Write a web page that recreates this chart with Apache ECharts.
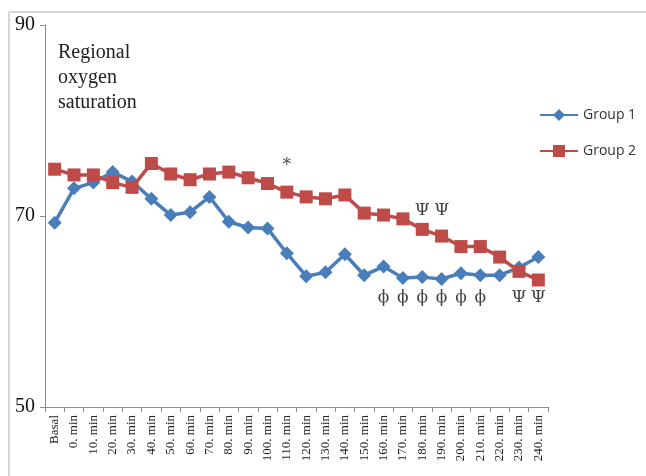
<!DOCTYPE html>
<html><head><meta charset="utf-8">
<style>html,body{margin:0;padding:0;background:#fff}#c{width:646px;height:476px}</style>
<script src="https://cdn.jsdelivr.net/npm/echarts@6/dist/echarts.min.js"></script>
</head><body><div id="c"></div>
<script>
var categories = ['Basal','0. min','10. min','20. min','30. min','40. min','50. min','60. min','70. min','80. min','90. min','100. min','110. min','120. min','130. min','140. min','150. min','160. min','170. min','180. min','190. min','200. min','210. min','220. min','230. min','240. min'];
var group1 = [69.3,72.9,73.5,74.6,73.6,71.8,70.1,70.4,72.0,69.4,68.8,68.7,66.1,63.7,64.1,66.0,63.8,64.7,63.5,63.6,63.4,64.0,63.8,63.8,64.6,65.7];
var group2 = [74.9,74.3,74.3,73.5,73.0,75.5,74.4,73.8,74.4,74.6,74.0,73.4,72.5,72.0,71.8,72.2,70.3,70.1,69.7,68.6,67.9,66.8,66.8,65.7,64.2,63.3];
var yTicks = [50,70,90];
var annotCats = ['110. min','180. min','190. min','160. min','170. min','180. min','190. min','200. min','210. min','230. min','240. min'];
var annotVals = [75.3,70.6,70.6,61.5,61.5,61.5,61.5,61.5,61.5,61.5,61.5];
var annotTexts = ['*','Ψ','Ψ','ϕ','ϕ','ϕ','ϕ','ϕ','ϕ','Ψ','Ψ'];
var titleLines = ['Regional','oxygen','saturation'];

var chart = echarts.init(document.getElementById('c'), null, {renderer:'canvas'});
var annotData = annotCats.map(function(c,i){return {value:[c, annotVals[i]], name:annotTexts[i]};});
chart.setOption({
  animation:false,
  backgroundColor:'#fff',
  graphic:[
    {type:'line', shape:{x1:9,y1:12,x2:646,y2:12}, style:{stroke:'#c8c8c8', lineWidth:1.5}},
    {type:'line', shape:{x1:9,y1:12,x2:9,y2:476}, style:{stroke:'#c8c8c8', lineWidth:1.5}},
    {type:'text', left:58, top:40, style:{text:titleLines.join('\n'), font:'20px "Liberation Serif"', fill:'#222', lineHeight:25}}
  ],
  grid:{left:45, right:98, top:25, bottom:69, containLabel:false},
  legend:{
    orient:'vertical', left:534, top:103, itemGap:22, itemWidth:38, itemHeight:15,
    textStyle:{fontFamily:'"Open Sans"', fontSize:14, color:'#333'},
    data:['Group 1','Group 2']
  },
  xAxis:{
    type:'category', data:categories, boundaryGap:true,
    axisLine:{lineStyle:{color:'#8c8c8c', width:1}},
    axisTick:{show:true, interval:0, length:5, lineStyle:{color:'#8c8c8c'}},
    axisLabel:{interval:0, rotate:90, fontFamily:'"Liberation Serif"', fontSize:13, color:'#222', margin:8}
  },
  yAxis:{
    type:'value', min:yTicks[0], max:yTicks[yTicks.length-1], interval:20,
    splitLine:{show:false},
    axisLine:{show:true, lineStyle:{color:'#8c8c8c', width:1}},
    axisTick:{show:true, length:5, lineStyle:{color:'#8c8c8c'}},
    axisLabel:{fontFamily:'"Liberation Serif"', fontSize:20, color:'#111', margin:10}
  },
  series:[
    {name:'Group 1', type:'line', data:group1, symbol:'diamond', symbolSize:14,
     lineStyle:{color:'#4a7ebb', width:3.5}, itemStyle:{color:'#4a7ebb'}, z:3},
    {name:'Group 2', type:'line', data:group2, symbol:'rect', symbolSize:13,
     lineStyle:{color:'#be4b48', width:3.5}, itemStyle:{color:'#be4b48'}, z:4},
    {name:'annot', type:'scatter', data:annotData, symbolSize:0, silent:true,
     label:{show:true, position:'inside', formatter:function(p){return p.name;},
            fontFamily:'"DejaVu Serif"', fontSize:17, color:'#111'}, z:5}
  ]
});
</script></body></html>
